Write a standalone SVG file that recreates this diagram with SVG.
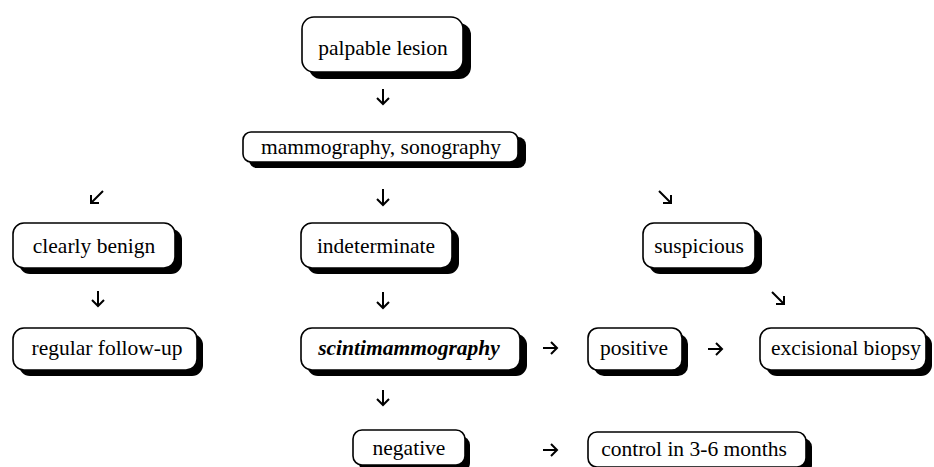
<svg xmlns="http://www.w3.org/2000/svg" width="934" height="467" viewBox="0 0 934 467">
<style>
.sh{fill:#000}
.bx{fill:#fff;stroke:#000;stroke-width:1.6}
.t{font-family:"Liberation Serif","Times New Roman",serif;font-size:21.5px;fill:#000;text-anchor:middle}
.bi{font-weight:bold;font-style:italic}
.ar{fill:none;stroke:#000;stroke-width:2;stroke-linecap:butt;stroke-linejoin:miter}
</style>
<rect width="934" height="467" fill="#fff"/>
<g id="connectors">
<path class="ar" d="M383 89 V104 M377 98 L383 104 L389 98"/>
<path class="ar" d="M103 191 L91 203 M91 195 V203 H99"/>
<path class="ar" d="M383 189 V205 M377 199 L383 205 L389 199"/>
<path class="ar" d="M659 191 L671 203 M671 195 V203 H663"/>
<path class="ar" d="M98 291 V306 M92 300 L98 306 L104 300"/>
<path class="ar" d="M383 292 V308 M377 302 L383 308 L389 302"/>
<path class="ar" d="M772 292 L784 304 M784 296 V304 H776"/>
<path class="ar" d="M543 348 H557 M551 342 L557 348 L551 354"/>
<path class="ar" d="M708 349 H722 M716 343 L722 349 L716 355"/>
<path class="ar" d="M383 390 V405 M377 399 L383 405 L389 399"/>
<path class="ar" d="M543 450 H557 M551 444 L557 450 L551 456"/>
</g>
<g id="n-palpable">
<rect class="sh" x="309" y="23" width="162" height="56" rx="12"/>
<rect class="bx" x="302" y="17" width="161" height="55" rx="12"/>
<text class="t" x="383" y="55">palpable lesion</text>
</g>
<g id="n-mammo">
<rect class="sh" x="249" y="137" width="277" height="31" rx="8"/>
<rect class="bx" x="243" y="132" width="275" height="30" rx="8"/>
<text class="t" x="381" y="154">mammography, sonography</text>
</g>
<g id="n-benign">
<rect class="sh" x="19" y="229" width="163" height="45" rx="11"/>
<rect class="bx" x="13" y="223" width="162" height="45" rx="11"/>
<text class="t" x="94" y="253">clearly benign</text>
</g>
<g id="n-indet">
<rect class="sh" x="307" y="229" width="152" height="45" rx="11"/>
<rect class="bx" x="301" y="223" width="151" height="45" rx="11"/>
<text class="t" x="376" y="253">indeterminate</text>
</g>
<g id="n-susp">
<rect class="sh" x="649" y="229" width="113" height="45" rx="11"/>
<rect class="bx" x="643" y="223" width="112" height="45" rx="11"/>
<text class="t" x="699" y="253">suspicious</text>
</g>
<g id="n-regular">
<rect class="sh" x="19" y="334" width="184" height="42" rx="11"/>
<rect class="bx" x="13" y="328" width="184" height="42" rx="11"/>
<text class="t" x="107" y="355">regular follow-up</text>
</g>
<g id="n-scinti">
<rect class="sh" x="307" y="334" width="220" height="42" rx="11"/>
<rect class="bx" x="301" y="328" width="219" height="42" rx="11"/>
<text class="t bi" x="409" y="355">scintimammography</text>
</g>
<g id="n-positive">
<rect class="sh" x="594" y="334" width="94" height="42" rx="10"/>
<rect class="bx" x="588" y="328" width="94" height="42" rx="10"/>
<text class="t" x="634" y="355">positive</text>
</g>
<g id="n-biopsy">
<rect class="sh" x="766" y="334" width="166" height="42" rx="11"/>
<rect class="bx" x="760" y="328" width="166" height="42" rx="11"/>
<text class="t" x="846" y="355">excisional biopsy</text>
</g>
<g id="n-negative">
<rect class="sh" x="359" y="436" width="111" height="36" rx="9"/>
<rect class="bx" x="353" y="430" width="112" height="35" rx="9"/>
<text class="t" x="409" y="455">negative</text>
</g>
<g id="n-control">
<rect class="sh" x="594" y="438" width="218" height="36" rx="9"/>
<rect class="bx" x="588" y="432" width="218" height="35" rx="9"/>
<text class="t" x="694" y="456">control in 3-6 months</text>
</g>
</svg>
